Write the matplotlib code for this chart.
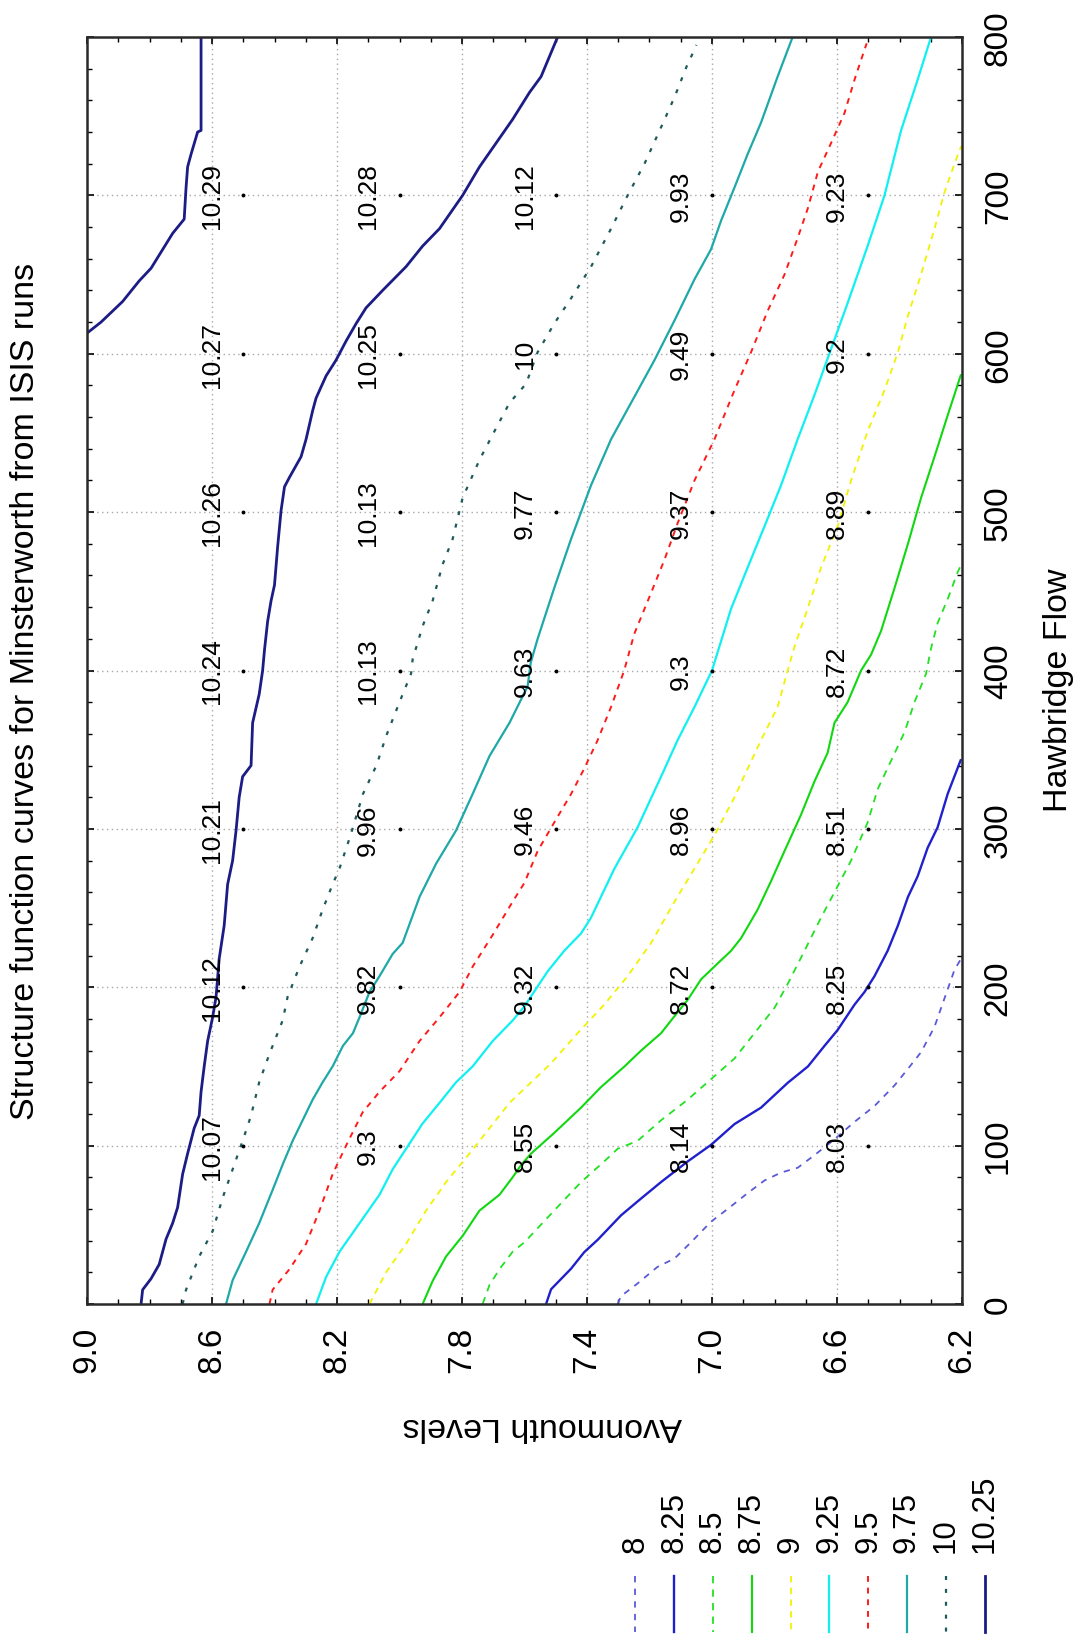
"""
Structure function curves for Minsterworth, drawn in the rotated page layout.
"""
import numpy as np
import matplotlib
matplotlib.use("Agg")
import matplotlib.pyplot as plt
from matplotlib.ticker import FixedLocator, MultipleLocator, FormatStrFormatter

plt.rcParams["font.family"] = ["Liberation Sans", "DejaVu Sans"]

# --------------------------- data --------------------------- #
LEVEL_TICKS = [9.0, 8.6, 8.2, 7.8, 7.4, 7.0, 6.6, 6.2]
FLOW_TICKS = [0, 100, 200, 300, 400, 500, 600, 700, 800]

CONTOUR_LEVELS = ["8", "8.25", "8.5", "8.75", "9", "9.25", "9.5", "9.75", "10", "10.25"]

# each contour: (Avonmouth level, Hawbridge flow) pairs
c8_level = [7.302, 7.291, 7.238, 7.174, 7.120, 7.067, 7.003, 6.950, 6.886, 6.832, 6.779, 6.726,
            6.672, 6.608, 6.544, 6.480, 6.416, 6.373, 6.331, 6.288, 6.256, 6.224, 6.200]
c8_flow = [0, 5, 13, 23.5, 28.7, 39, 52, 60, 70, 78, 83, 86,
           94, 104, 115, 125, 138, 148.5, 159, 175, 193, 211, 219]

c825_level = [7.531, 7.515, 7.451, 7.409, 7.366, 7.291, 7.227, 7.163, 7.078, 7.003, 6.928, 6.843,
              6.758, 6.693, 6.640, 6.598, 6.544, 6.512, 6.480, 6.438, 6.405, 6.373, 6.342, 6.310,
              6.278, 6.246, 6.203]
c825_flow = [0, 9.3, 22.3, 32.7, 40.5, 56, 66.6, 77, 90, 100.5, 113.6, 124,
             139.6, 150, 163, 173, 189, 197, 207, 223, 239, 257, 270, 288,
             301, 322, 344]

c85_level = [7.734, 7.712, 7.680, 7.638, 7.600, 7.505, 7.419, 7.345, 7.302, 7.238, 7.163, 7.078,
             7.003, 6.928, 6.864, 6.800, 6.758, 6.704, 6.651, 6.608, 6.555, 6.502, 6.470, 6.427,
             6.384, 6.352, 6.315, 6.299, 6.278, 6.246, 6.214, 6.200]
c85_flow = [0, 12, 22, 33, 39, 59, 77, 90, 98, 103, 116, 129,
            142, 155, 171, 187, 202, 223, 244, 260, 280, 304, 325, 343,
            361, 380, 398, 414, 430, 445, 462, 468]

c875_level = [7.926, 7.894, 7.851, 7.798, 7.744, 7.680, 7.638, 7.610, 7.579, 7.505, 7.419, 7.355,
              7.280, 7.227, 7.163, 7.131, 7.078, 7.035, 6.982, 6.939, 6.907, 6.854, 6.811, 6.768,
              6.715, 6.672, 6.630, 6.608, 6.566, 6.523, 6.491, 6.459, 6.416, 6.373, 6.331, 6.288,
              6.246, 6.203]
c875_flow = [0, 14.5, 30, 43, 59, 69, 80, 88, 95, 108, 124, 137,
             150, 160, 171, 179, 192, 205, 215, 223, 231, 249, 267, 286,
             309, 330, 348, 367, 380, 400, 410, 425, 452, 480, 509, 535,
             561, 587]

c9_level = [8.096, 8.043, 7.979, 7.915, 7.851, 7.776, 7.712, 7.648, 7.600, 7.515, 7.430, 7.345,
            7.270, 7.195, 7.120, 7.056, 6.992, 6.928, 6.886, 6.843, 6.790, 6.758, 6.736, 6.694,
            6.651, 6.598, 6.555, 6.502, 6.448, 6.405, 6.373, 6.331, 6.288, 6.256, 6.224, 6.203]
c9_flow = [0, 20, 38, 59, 77, 95, 111, 127, 136, 152, 171, 189,
           207, 228, 254, 275, 296, 320, 338, 356, 377, 400, 415, 439,
           465, 491, 520, 551, 577, 601, 624, 650, 679, 702, 720, 731]

c925_level = [8.267, 8.235, 8.192, 8.128, 8.064, 8.022, 7.979, 7.926, 7.872, 7.819, 7.766, 7.702,
              7.638, 7.600, 7.526, 7.473, 7.419, 7.387, 7.312, 7.238, 7.163, 7.110, 7.056, 7.000,
              6.939, 6.886, 6.832, 6.779, 6.726, 6.672, 6.619, 6.566, 6.502, 6.448, 6.395, 6.342,
              6.299]
c925_flow = [0, 17, 33, 51, 69, 85, 98, 114, 127, 140, 150, 166,
             179, 188, 210, 223, 234, 244, 275, 301, 333, 356, 377, 400,
             439, 465, 491, 517, 546, 574, 603, 632, 668, 700, 741, 773,
             800]

c95_level = [8.416, 8.406, 8.352, 8.299, 8.256, 8.214, 8.171, 8.118, 8.064, 8.000, 7.936, 7.872,
             7.808, 7.766, 7.702, 7.638, 7.600, 7.558, 7.505, 7.451, 7.409, 7.366, 7.323, 7.281,
             7.249, 7.195, 7.152, 7.110, 7.056, 6.992, 6.928, 6.875, 6.822, 6.768, 6.726, 6.693,
             6.661, 6.619, 6.576, 6.544, 6.512, 6.505]
c95_flow = [0, 9, 22, 38, 59, 82, 100, 121, 134, 147, 166, 181,
            197, 213, 233, 254, 266, 286, 304, 322, 338, 356, 377, 400,
            423, 449, 470, 493, 520, 546, 577, 601, 627, 650, 673, 692,
            715, 733, 752, 773, 792, 796]

c975_level = [8.555, 8.534, 8.491, 8.449, 8.406, 8.374, 8.342, 8.310, 8.278, 8.246, 8.214, 8.181,
              8.149, 8.128, 8.096, 8.064, 8.022, 7.990, 7.936, 7.883, 7.819, 7.766, 7.712, 7.648,
              7.590, 7.580, 7.558, 7.505, 7.451, 7.387, 7.323, 7.259, 7.184, 7.120, 7.056, 7.003,
              6.971, 6.928, 6.886, 6.843, 6.790, 6.742]
c975_flow = [0, 15, 33, 51, 72, 88, 103, 116, 129, 140, 150, 163,
             171, 181, 197, 207, 221, 228, 257, 278, 299, 322, 346, 367,
             390, 405, 420, 452, 483, 517, 546, 569, 596, 621, 647, 666,
             684, 705, 726, 746, 775, 800]

c10_level = [8.694, 8.683, 8.641, 8.598, 8.566, 8.534, 8.502, 8.475, 8.449, 8.416, 8.374, 8.358,
             8.320, 8.278, 8.246, 8.214, 8.192, 8.160, 8.149, 8.117, 8.074, 8.042, 8.000, 7.963,
             7.958, 7.926, 7.894, 7.862, 7.830, 7.798, 7.744, 7.691, 7.648, 7.595, 7.558, 7.505,
             7.451, 7.387, 7.323, 7.270, 7.216, 7.163, 7.120, 7.078, 7.056, 7.050]
c10_flow = [0, 9, 30, 46, 67, 85, 103, 119, 140, 158, 179, 194,
            213, 231, 249, 265, 275, 294, 301, 322, 340, 359, 380, 398,
            407, 428, 444, 467, 483, 509, 533, 553, 569, 581, 601, 619,
            635, 655, 679, 700, 720, 743, 762, 783, 792, 795]

c1025_level = [8.827, 8.822, 8.795, 8.769, 8.747, 8.726, 8.710, 8.694, 8.678, 8.657, 8.641, 8.635,
               8.625, 8.614, 8.598, 8.587, 8.577, 8.561, 8.550, 8.534, 8.523, 8.513, 8.502, 8.475,
               8.470, 8.449, 8.438, 8.432, 8.422, 8.411, 8.400, 8.390, 8.379, 8.368, 8.352, 8.315,
               8.299, 8.278, 8.267, 8.235, 8.203, 8.171, 8.139, 8.107, 8.054, 7.979, 7.926, 7.872,
               7.798, 7.744, 7.691, 7.638, 7.584, 7.547, 7.494]
c1025_flow = [0, 9, 16, 25, 41, 51, 61, 82, 95, 111, 119, 134,
              150, 166, 181, 194, 218, 239, 265, 280, 299, 320, 333, 340,
              367, 385, 400, 413, 431, 444, 454, 478, 501, 516, 522, 535,
              546, 564, 572, 586, 596, 608, 619, 629, 640, 655, 668, 679,
              700, 718, 733, 748, 765, 775, 800]

# second piece of the 10.25 curve, top-left corner
c1025b_level = [8.635, 8.635, 8.646, 8.667, 8.678, 8.683, 8.689, 8.726, 8.795, 8.833, 8.886,
                8.955, 9.0]
c1025b_flow = [800, 741, 740, 726, 718, 705, 685, 676, 654, 646, 633, 620, 613]

# values printed at the grid of runs
POINT_LEVELS = [8.5, 8.0, 7.5, 7.0, 6.5]
POINT_FLOWS = [100, 200, 300, 400, 500, 600, 700]
POINT_VALUES = [
    ["10.07", "10.12", "10.21", "10.24", "10.26", "10.27", "10.29"],
    ["9.3", "9.82", "9.96", "10.13", "10.13", "10.25", "10.28"],
    ["8.55", "9.32", "9.46", "9.63", "9.77", "10", "10.12"],
    ["8.14", "8.72", "8.96", "9.3", "9.37", "9.49", "9.93"],
    ["8.03", "8.25", "8.51", "8.72", "8.89", "9.2", "9.23"],
]

# --------------------------- styles --------------------------- #
STYLES = {
    "8": dict(color="#5a5ad8", ls=(0, (3.5, 3.5)), lw=1.3),
    "8.25": dict(color="#2020cc", ls="-", lw=1.7),
    "8.5": dict(color="#22e022", ls=(0, (4, 3.5)), lw=1.3),
    "8.75": dict(color="#10d810", ls="-", lw=1.5),
    "9": dict(color="#f2f200", ls=(0, (3.5, 3)), lw=1.3),
    "9.25": dict(color="#10f0f0", ls="-", lw=1.6),
    "9.5": dict(color="#ff1a1a", ls=(0, (3, 3)), lw=1.4),
    "9.75": dict(color="#1ea8a8", ls="-", lw=1.6),
    "10": dict(color="#1f5a5a", ls=(0, (1.8, 4)), lw=1.6),
    "10.25": dict(color="#1c1c86", ls="-", lw=2.0),
}

CURVES = {
    "8": [(c8_level, c8_flow)],
    "8.25": [(c825_level, c825_flow)],
    "8.5": [(c85_level, c85_flow)],
    "8.75": [(c875_level, c875_flow)],
    "9": [(c9_level, c9_flow)],
    "9.25": [(c925_level, c925_flow)],
    "9.5": [(c95_level, c95_flow)],
    "9.75": [(c975_level, c975_flow)],
    "10": [(c10_level, c10_flow)],
    "10.25": [(c1025_level, c1025_flow), (c1025b_level, c1025b_flow)],
}

W, H = 1088, 1640


def make_plot():
    """Draw the chart as it sits on the page (turned a quarter turn)."""
    fig = plt.figure(figsize=(W / 100, H / 100), dpi=100)
    left, right, top, bottom = 87, 962, 38, 1305
    ax = fig.add_axes([left / W, 1 - bottom / H, (right - left) / W, (bottom - top) / H])

    for name in CONTOUR_LEVELS:
        for lev, flow in CURVES[name]:
            ax.plot(lev, flow, solid_capstyle="butt", dash_capstyle="butt", **STYLES[name])

    # run points and their values
    pl, pf = np.meshgrid(POINT_LEVELS, POINT_FLOWS, indexing="ij")
    ax.plot(pl.ravel(), pf.ravel(), ls="none", marker="o", ms=1.8, color="black")
    for i, lev in enumerate(POINT_LEVELS):
        for j, flow in enumerate(POINT_FLOWS):
            ax.text(lev + 0.1, flow, POINT_VALUES[i][j], rotation=90, ha="center",
                    va="center", fontsize=19)

    ax.set_xlim(9.0, 6.2)
    ax.set_ylim(0, 800)
    ax.xaxis.set_major_locator(FixedLocator(LEVEL_TICKS))
    ax.xaxis.set_major_formatter(FormatStrFormatter("%.1f"))
    ax.xaxis.set_minor_locator(MultipleLocator(0.1))
    ax.yaxis.set_major_locator(FixedLocator(FLOW_TICKS))
    ax.yaxis.set_minor_locator(MultipleLocator(20))
    ax.yaxis.tick_right()

    ax.grid(True, which="major", color="#a8a8a8", ls=(0, (1, 2.5)), lw=1.0)
    ax.set_axisbelow(True)
    ax.tick_params(which="both", direction="in", top=True, bottom=True, left=True, right=True,
                   color="black")
    ax.tick_params(which="major", length=5, width=1.2)
    ax.tick_params(which="minor", length=3.5, width=1.0)
    ax.tick_params(axis="x", which="major", labelsize=24, labelrotation=90, pad=15.5,
                   labelbottom=True, labeltop=False)
    ax.tick_params(axis="y", which="major", labelsize=24, labelrotation=90, pad=15,
                   labelright=True, labelleft=False)
    for lab in ax.get_yticklabels():
        lab.set_verticalalignment("center")
    for sp in ax.spines.values():
        sp.set_linewidth(1.8)
        sp.set_color("#2a2a2a")

    ax.set_xlabel("Avonmouth Levels", fontsize=24.5, rotation=180, va="center")
    ax.xaxis.set_label_coords((542 - left) / (right - left), -(1427 - bottom) / (bottom - top))
    ax.yaxis.set_label_position("right")
    ax.set_ylabel("Hawbridge Flow", fontsize=24.5, rotation=90, va="center")
    ax.yaxis.set_label_coords((1059 - left) / (right - left), 1 - (690 - top) / (bottom - top))
    ax.text((26 - left) / (right - left), 1 - (691 - top) / (bottom - top),
            "Structure function curves for Minsterworth from ISIS runs",
            transform=ax.transAxes, rotation=90, ha="center", va="center", fontsize=24.5)

    # legend: short vertical samples along the bottom, labels reading upward
    lx0, lx1 = 616, 1004
    lax = fig.add_axes([lx0 / W, 0, (lx1 - lx0) / W, 170 / H])
    lax.set_xlim(-0.5, len(CONTOUR_LEVELS) - 0.5)
    lax.set_ylim(H, H - 170)
    lax.axis("off")
    for i, name in enumerate(CONTOUR_LEVELS):
        lax.plot([i, i], [1577, 1633], dash_capstyle="butt", **STYLES[name])
        lax.text(i, 1553, name, rotation=90, ha="center", va="bottom", fontsize=22.5)

    return fig


if __name__ == "__main__":
    fig = make_plot()
    fig.savefig("out.png", dpi=100)
